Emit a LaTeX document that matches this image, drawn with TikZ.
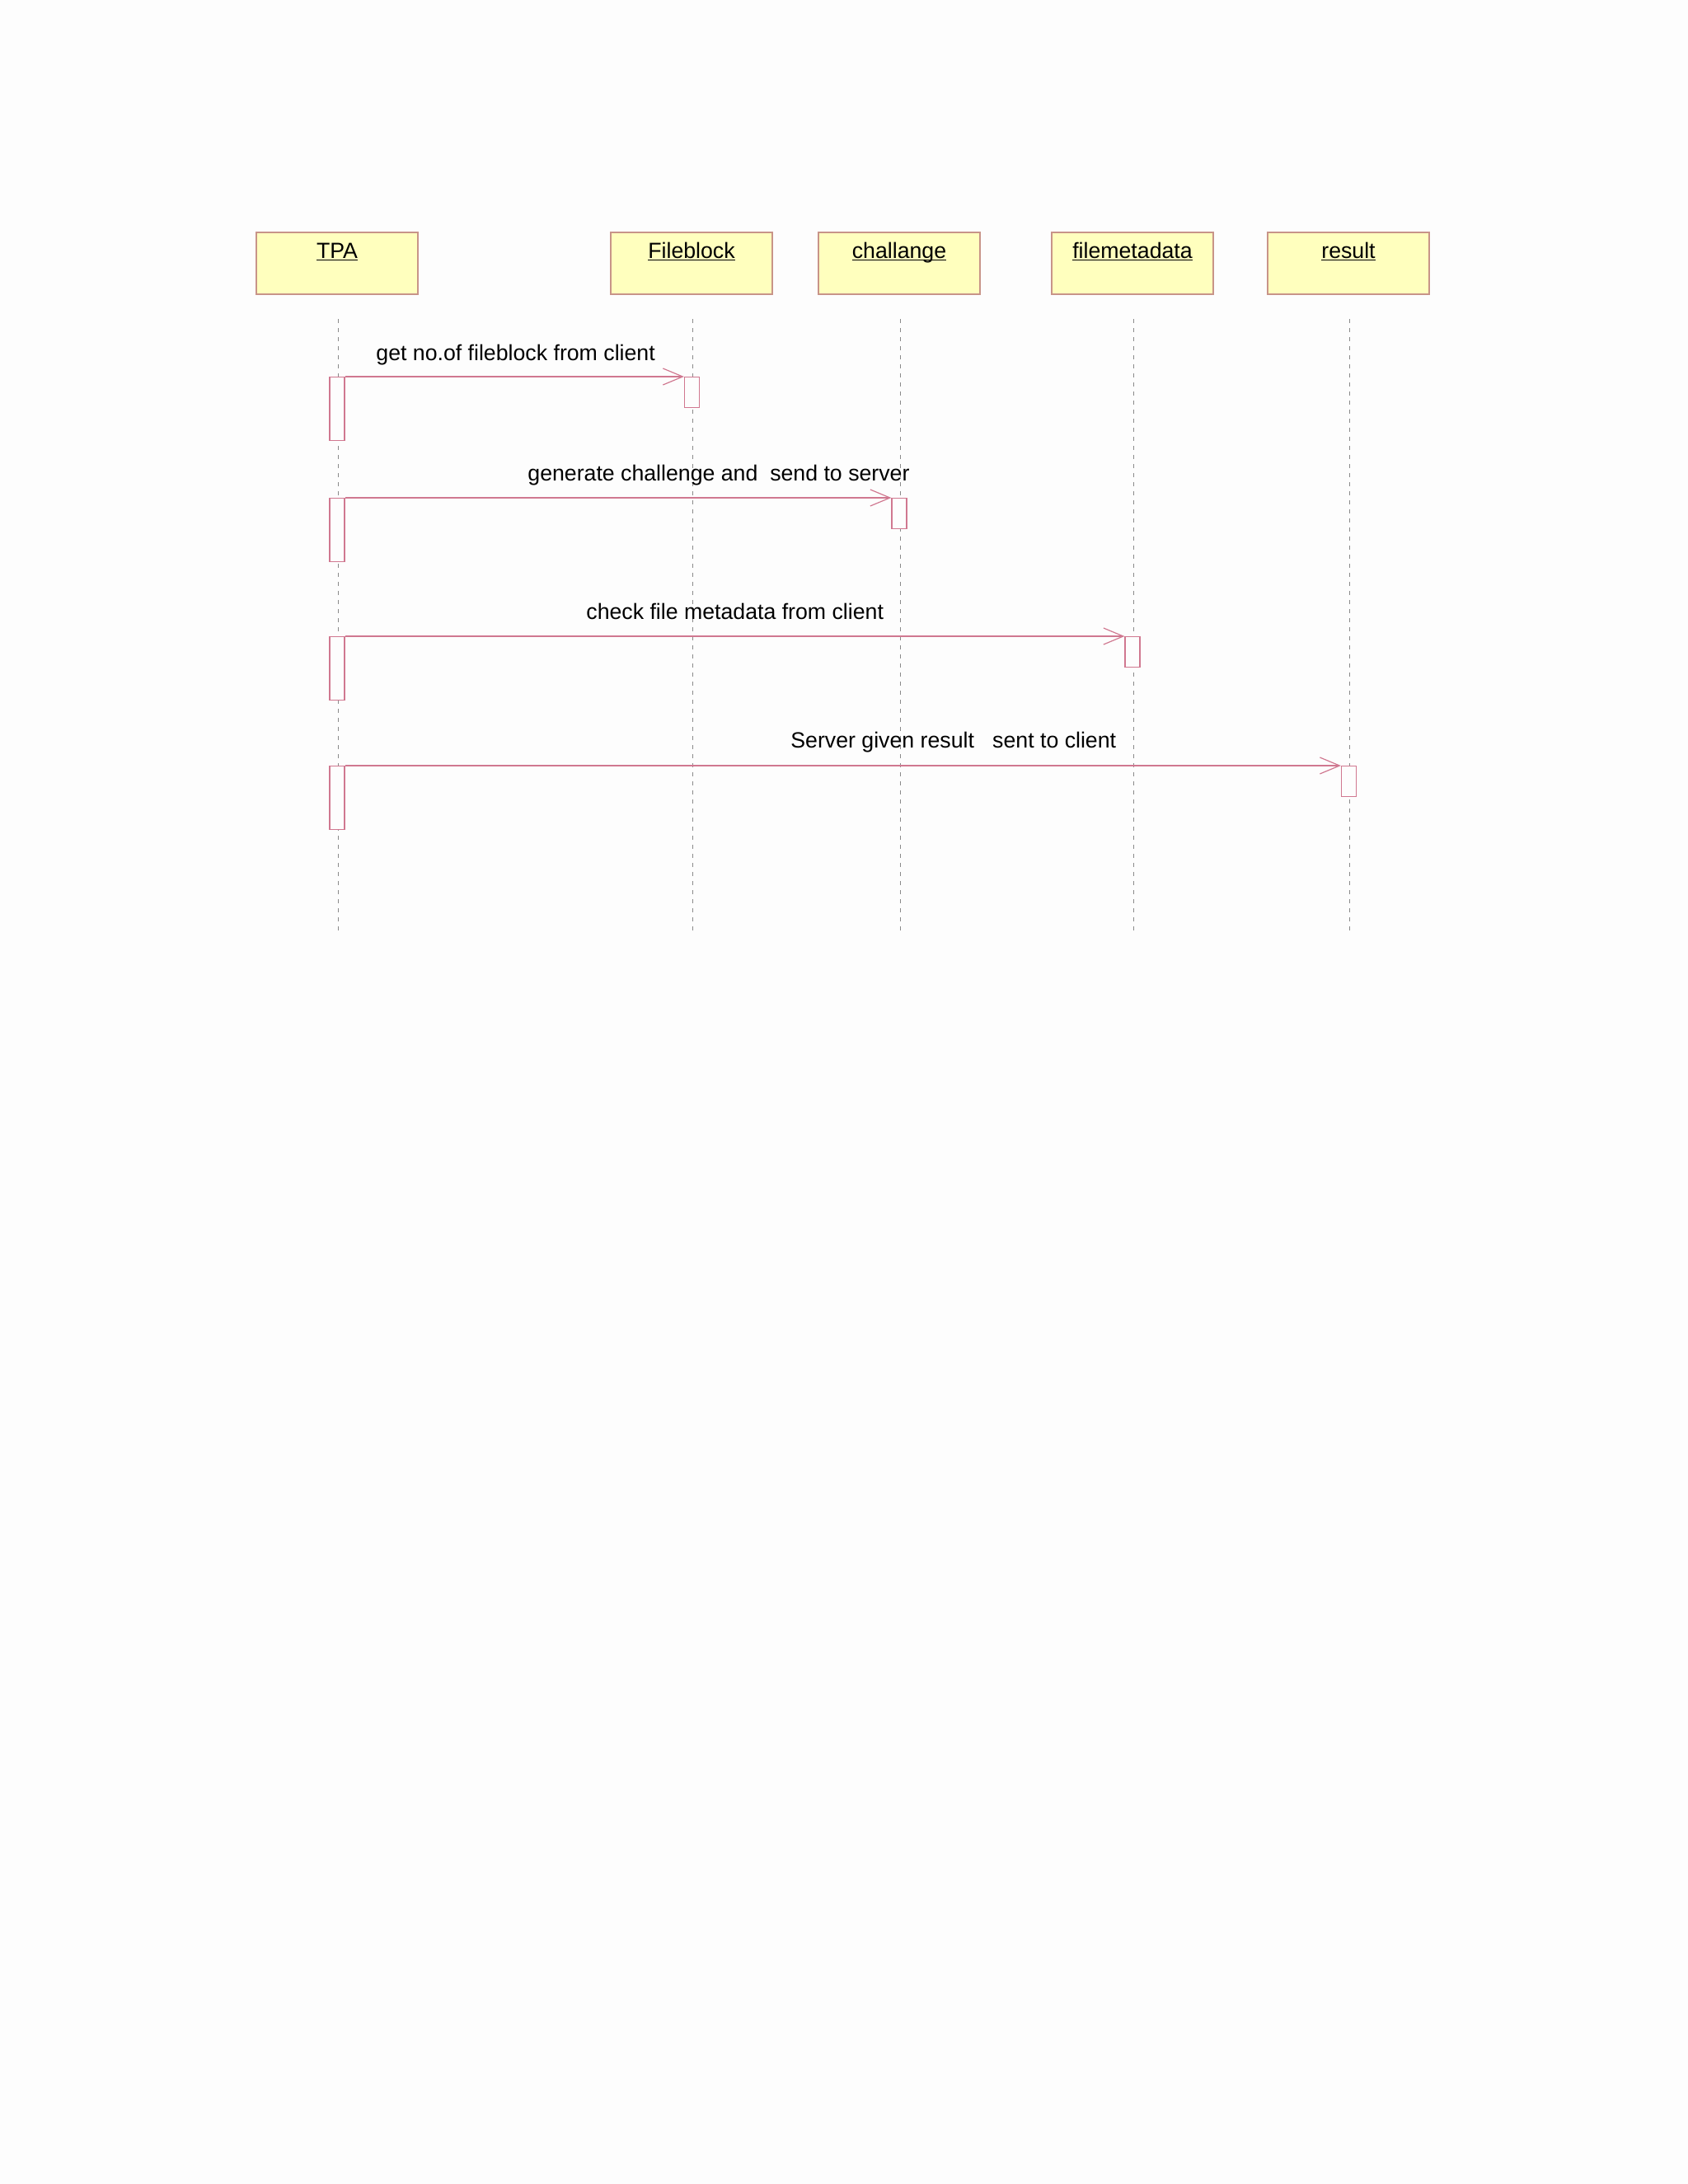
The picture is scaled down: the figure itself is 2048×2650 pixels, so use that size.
\documentclass[tikz,border=0pt]{standalone}
\usepackage{fontspec}
\setmainfont{Liberation Sans}
\usetikzlibrary{arrows.meta}
\definecolor{bgc}{HTML}{FDFDFD}
\definecolor{headfill}{HTML}{FFFFBE}
\definecolor{headdraw}{HTML}{C89488}
\definecolor{msgc}{HTML}{D07890}
\definecolor{lifec}{HTML}{8A8A8A}
\newcommand{\headul}[1]{\underline{\smash{#1}}}
\tikzset{
  headbox/.style={draw=headdraw, fill=headfill, line width=0.6pt, minimum width=98pt, minimum height=37.5pt, inner sep=0pt},
  headtxt/.style={anchor=base, inner sep=0pt, font=\fontsize{13.35}{16}\selectfont},
  lifeline/.style={draw=lifec, line width=0.5pt, dash pattern=on 2.5pt off 3pt},
  actbox/.style={draw=msgc, fill=bgc, line width=0.6pt, minimum width=9pt, inner sep=0pt, anchor=north},
  srcact/.style={actbox, minimum height=38.5pt},
  dstact/.style={actbox, minimum height=18.5pt},
  msgarrow/.style={draw=msgc, line width=0.6pt, -{Straight Barb[length=12pt,width=10pt,line width=0.6pt]}},
  msgtxt/.style={anchor=base west, inner sep=0pt, font=\fontsize{13.35}{16}\selectfont}
}
\begin{document}
\begin{tikzpicture}[x=0.5pt,y=-0.5pt]
\fill[bgc] (0,0) rectangle (2048,2650);
\useasboundingbox (0,0) rectangle (2048,2650);
% heads
\node[headbox] (tpa) at (409,319.5) {};
\node[headbox] (fb) at (839,319.5) {};
\node[headbox] (ch) at (1091,319.5) {};
\node[headbox] (fm) at (1374,319.5) {};
\node[headbox] (rs) at (1636,319.5) {};
\node[headtxt] (tpat) at (409,313) {\headul{TPA}};
\node[headtxt] (fbt) at (839,313) {\headul{Fileblock}};
\node[headtxt] (cht) at (1091,313) {\headul{challange}};
\node[headtxt] (fmt) at (1374,313) {\headul{filemetadata}};
\node[headtxt] (rst) at (1636,313) {\headul{result}};
% lifelines
\coordinate (tpaA) at (410,387); \coordinate (tpaB) at (410,1130);
\coordinate (fbA) at (840,387); \coordinate (fbB) at (840,1130);
\coordinate (chA) at (1092,387); \coordinate (chB) at (1092,1130);
\coordinate (fmA) at (1375,387); \coordinate (fmB) at (1375,1130);
\coordinate (rsA) at (1637,387); \coordinate (rsB) at (1637,1130);
\draw[lifeline] (tpaA) -- (tpaB);
\draw[lifeline] (fbA) -- (fbB);
\draw[lifeline] (chA) -- (chB);
\draw[lifeline] (fmA) -- (fmB);
\draw[lifeline] (rsA) -- (rsB);
% activations
\node[srcact] (s1) at (409,457) {};
\node[dstact] (d1) at (839.5,457) {};
\node[srcact] (s2) at (409,604) {};
\node[dstact] (d2) at (1091,604) {};
\node[srcact] (s3) at (409,772) {};
\node[dstact] (d3) at (1374,772) {};
\node[srcact] (s4) at (409,929) {};
\node[dstact] (d4) at (1636.5,929) {};
% messages
\draw[msgarrow] (s1.north east) -- (d1.north west);
\draw[msgarrow] (s2.north east) -- (d2.north west);
\draw[msgarrow] (s3.north east) -- (d3.north west);
\draw[msgarrow] (s4.north east) -- (d4.north west);
\node[msgtxt] (m1) at (456,437) {get no.of fileblock from client};
\node[msgtxt] (m2) at (640,583) {generate challenge and\ \ send to server};
\node[msgtxt] (m3) at (711,751) {check file metadata from client};
\node[msgtxt] (m4) at (959,907) {Server given result\ \ \ sent to client};
\end{tikzpicture}
\end{document}
